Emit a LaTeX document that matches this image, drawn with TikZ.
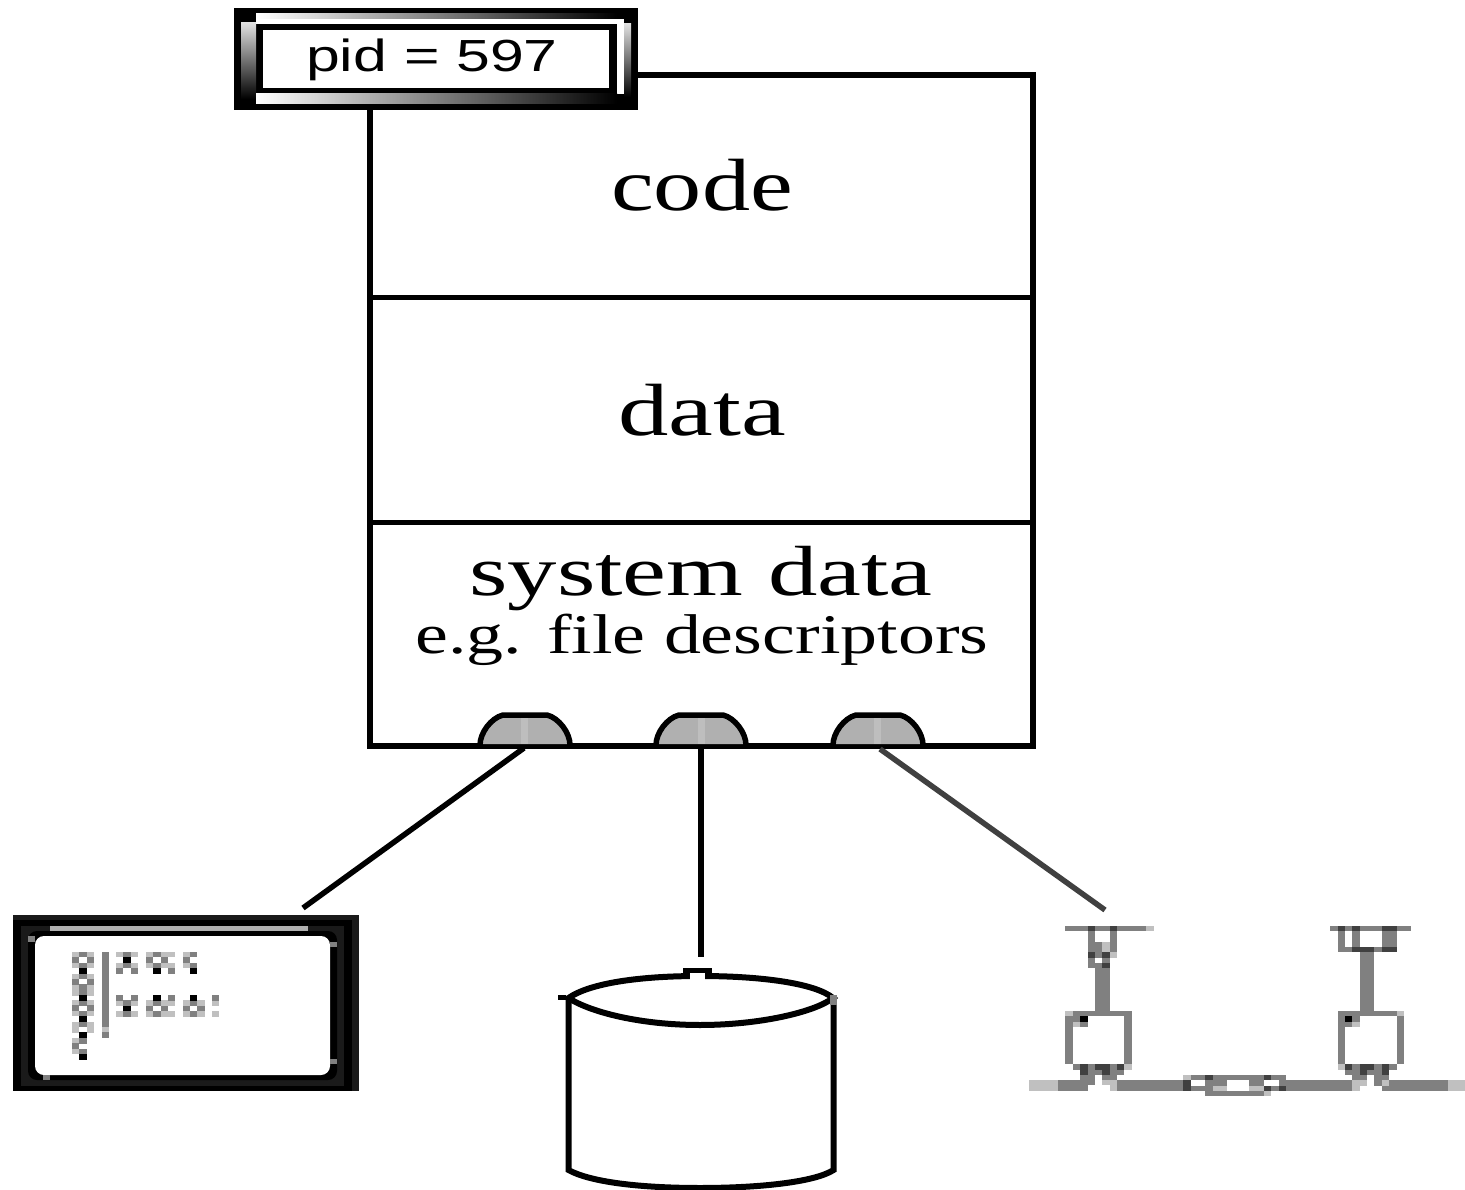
\documentclass[tikz,border=0pt]{standalone}
\usepackage{fontspec}
\setmainfont{Liberation Serif}
\newfontfamily\labelsans{Liberation Sans}
\definecolor{netg}{HTML}{808080}
\definecolor{netd}{HTML}{404040}
\definecolor{netl}{HTML}{C0C0C0}
\definecolor{portfill}{HTML}{B0B0B0}
\definecolor{portlite}{HTML}{BEBEBE}
\definecolor{termdark}{HTML}{1A1A1A}
\newcommand{\bigtext}[3]{\fontsize{#1}{#1}\selectfont\scalebox{#2}[1]{#3}}
\tikzset{
  outline/.style={draw=black,line width=6pt,line join=miter},
  divider/.style={draw=black,line width=5pt},
  wire/.style={draw=black,line width=5.5pt},
  netwire/.style={draw=netd,line width=5.5pt},
  label/.style={inner sep=0pt,anchor=base,text=black},
}
\newcommand{\netblocks}[2]{\foreach \a/\b/\c/\d in {#2}
  {\fill[#1] ({1020+\a/3},{900+\b/3}) rectangle ({1020+\c/3},{900+\d/3});}}
\newcommand{\termpix}[2]{\foreach \a/\b in {#2}
  {\fill[#1] ({\a/3},{900+\b/3}) rectangle ({\a/3+7.3},{900+\b/3+5.5});}}
\newcommand{\termblocks}[2]{\foreach \a/\b/\c/\d in {#2}
  {\fill[#1] ({\a/3},{900+\b/3}) rectangle ({\c/3},{900+\d/3});}}
\newcommand{\portdome}[3]{%
  \fill[portfill] (#1-21,744) .. controls (#1-21,733) and (#1-10,718) .. (#1+2,715) -- (#1+46,715) .. controls (#1+58,718) and (#1+69,733) .. (#1+69,744) -- cycle;
  \fill[portlite] (#1+#2,717) rectangle (#1+#2+7,744);
  \draw[draw=black,line width=5.5pt] (#1-21,745) .. controls (#1-21,733) and (#1-10,718) .. (#1+2,715) -- (#1+46,715) .. controls (#1+58,718) and (#1+69,733) .. (#1+69,745);
  \coordinate (#3) at (#1+24,746);
}
\begin{document}
\begin{tikzpicture}[x=1pt,y=-1pt]
\useasboundingbox (0,0) rectangle (1465,1190);

% process box
\node[outline,fill=white,minimum width=663pt,minimum height=671pt,inner sep=0pt] (proc) at (701.5,410.5) {};
\coordinate (d1l) at (370,298); \coordinate (d1r) at (1033,298);
\coordinate (d2l) at (370,522); \coordinate (d2r) at (1033,522);
\draw[divider] (d1l) -- (d1r);
\draw[divider] (d2l) -- (d2r);
\node[label] (code) at (702,211) {\bigtext{74}{1.3}{code}};
\node[label] (data) at (702,435) {\bigtext{74}{1.36}{data}};
\node[label] (sysdata) at (701,595) {\bigtext{71}{1.39}{system data}};
\node[label] (fdesc) at (702,653) {\bigtext{56}{1.32}{e.g. file descriptors}};

% ports
\portdome{501}{20}{port1}
\portdome{677}{21}{port2}
\portdome{854}{20}{port3}

% pid box
\node[fill=black,minimum width=404pt,minimum height=102pt,inner sep=0pt] (pidbox) at (436,59) {};
\shade[left color=white,right color=black] (256,14) rectangle (617,19);
\fill[white] (256,19) rectangle (624,24);
\fill[white] (617,19) rectangle (624,94);
\shade[top color=white!88!black,bottom color=black] (241,23) rectangle (256,99);
\shade[top color=white!88!black,bottom color=black] (624,24) rectangle (631,97);
\shade[left color=white,right color=black] (256,94) rectangle (617,104);
\node[fill=white,minimum width=346pt,minimum height=58pt,inner sep=0pt] (pidinner) at (436,59) {};
\node[inner sep=0pt,anchor=base] (pidtext) at (432,72) {\labelsans\fontsize{45}{45}\selectfont\scalebox{1.35}[1]{pid = 597}};

% terminal
\node[fill=termdark,minimum width=346pt,minimum height=176pt,inner sep=0pt] (term) at (186,1003) {};
\termblocks{black}{39/60/1056/572}
\termblocks{termdark}{63/78/1032/557}
\termblocks{portfill}{150/78/925/93}
\fill[black,rounded corners=9pt] (28,931) rectangle (337,1080);
\fill[white,rounded corners=9pt] (35,936) rectangle (330,1075);
\termblocks{netg}{85/108/105/125, 990/125/1010/142, 990/477/1010/492, 130/525/150/540}
% terminal screen marks
\termpix{netl}{216/155,260/155,216/188,260/188,216/221,260/221,216/253,260/253,216/270,260/270,216/300,260/300,216/332,260/332,216/365,260/365,216/381,260/381,216/414,216/446,
 348/155,392/155,348/188,392/188,438/155,482/155,504/155,438/188,482/188,504/188,548/155,548/188,
 348/301,392/301,348/333,392/333,438/301,482/301,504/301,438/333,482/333,504/333,548/301,592/301,548/333,592/333,636/301,636/333}
\termpix{netg}{238/155,216/172,260/172,238/188,238/221,216/237,260/237,238/253,238/270,238/300,216/316,260/316,238/332,238/365,238/414,216/430,238/446,
 370/155,370/188,348/204,392/204,460/155,438/172,482/172,460/188,504/204,570/155,548/172,570/188,
 348/285,392/285,370/301,370/333,504/285,460/301,438/317,482/317,460/333,570/301,548/317,592/317,570/333,636/285}
\termpix{black}{238/204,238/286,238/348,238/397,238/462,370/172,460/204,570/204,370/317,460/285,570/285}
\termblocks{netg}{306/155/327/381, 306/397/327/414}
\termblocks{netl}{306/381/327/397}
\coordinate (termjack) at (303,908);

% disk
\coordinate (disktop) at (701,957);
\draw[outline,fill=white] (568.5,998) .. controls (590,983) and (640,976) .. (700,976) .. controls (760,976) and (815,983) .. (833,998) .. controls (815,1012) and (760,1025) .. (700,1025) .. controls (640,1025) and (590,1012) .. (568.5,998) -- cycle;
\fill[black] (683,968) rectangle (712,979);
\fill[white] (690,973) rectangle (705,980);
\fill[black] (558,995) rectangle (566,1000);
\draw[outline] (568.5,998) -- (568.5,1170) .. controls (590,1182) and (640,1188) .. (700,1188) .. controls (760,1188) and (815,1182) .. (833.5,1170) -- (833.5,998);
\fill[netg] (830,995) rectangle (837,1005);

% network
\netblocks{netl}{27/540/114/573, 378/78/402/93, 135/333/158/348, 247/127/270/157, 270/157/292/173, 158/365/180/381, 312/492/335/510, 180/540/204/555, 247/540/290/555, 270/555/290/573,
 490/525/513/540, 580/557/620/573, 688/557/733/573, 733/573/752/588,
 997/540/1040/557, 997/557/1020/573, 1085/540/1108/557, 1285/540/1335/573, 1130/333/1152/348, 997/365/1020/381, 955/492/975/510}
\netblocks{netg}{135/78/378/93, 205/93/225/157, 270/93/292/157, 225/127/247/157, 225/157/247/173, 205/173/225/205, 225/188/247/205, 247/173/270/188, 225/205/270/333,
 158/333/312/348, 312/333/335/348, 135/348/158/492, 312/348/335/492, 158/348/180/365, 180/365/204/381,
 160/492/180/510, 204/492/225/510, 270/492/290/510, 204/510/247/525, 270/510/312/525, 180/525/225/540, 247/525/290/540, 204/540/225/555, 114/540/204/573, 290/540/490/573,
 513/525/555/540, 580/525/733/540, 752/525/798/540, 513/557/555/573, 555/540/620/557, 555/557/580/588, 688/540/733/557, 555/573/733/588, 752/557/777/573, 777/540/798/557,
 798/540/997/573, 1062/525/1085/557, 1108/540/1285/557, 1085/557/1285/573,
 997/492/1020/510, 1062/492/1085/510, 1108/492/1130/510, 975/510/1020/525, 1040/510/1085/525, 997/525/1040/540, 1085/525/1108/540,
 955/333/1130/348, 955/348/975/492, 1130/348/1152/492, 997/348/1020/365, 975/365/997/381, 1020/157/1062/333,
 930/78/1172/93, 955/93/975/157, 997/93/1020/142, 1087/93/1130/142, 975/142/997/157, 1062/142/1087/157}
\netblocks{netd}{205/78/225/93, 270/78/292/93, 205/157/225/173, 247/157/270/173, 247/188/270/205, 180/492/204/525, 225/492/270/510, 247/510/270/525, 290/492/312/510,
 555/525/580/540, 733/525/752/540, 490/540/513/573, 733/557/752/573, 777/557/798/573,
 975/492/997/510, 1020/492/1062/510, 1020/510/1040/525, 1085/492/1108/525,
 955/78/975/93, 997/78/1020/93, 1087/78/1130/93, 997/142/1062/157, 1087/142/1130/157}
\netblocks{black}{180/348/204/365, 975/348/997/365}
\coordinate (netjack) at (1105,910);

% connectors
\draw[wire] (port1) ++(-1,2) -- (termjack);
\draw[wire,line width=6.5pt] (port2) -- (disktop);
\draw[netwire] (port3) ++(2,3) -- (netjack);
\end{tikzpicture}
\end{document}
